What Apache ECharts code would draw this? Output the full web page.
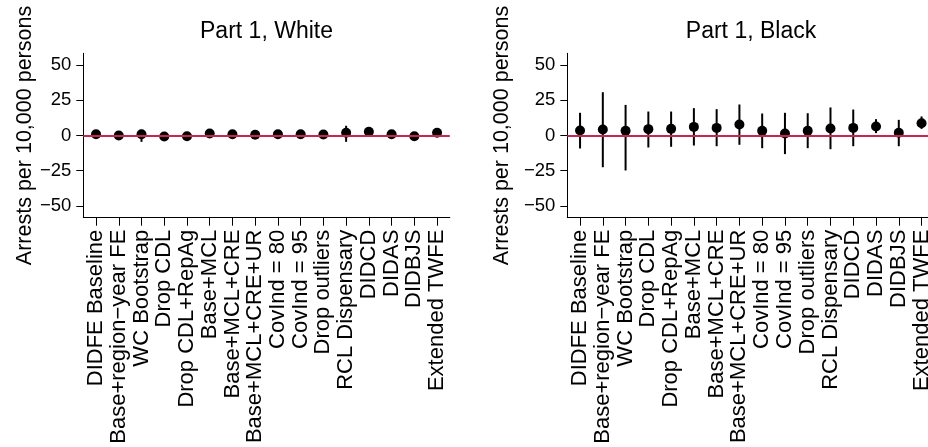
<!DOCTYPE html>
<html>
<head>
<meta charset="utf-8">
<script src="https://cdn.jsdelivr.net/npm/echarts@6/dist/echarts.min.js"></script>
<style>
html,body{margin:0;padding:0;background:#fff;}
#chart{width:928px;height:447px;}
</style>
</head>
<body>
<div id="chart"></div>
<script>
var categories = ["DIDFE Baseline","Base+region\u2212year FE","WC Bootstrap","Drop CDL","Drop CDL+RepAg","Base+MCL","Base+MCL+CRE","Base+MCL+CRE+UR","CovInd = 80","CovInd = 95","Drop outliers","RCL Dispensary","DIDCD","DIDAS","DIDBJS","Extended TWFE"];
var yTicks = [-50, -25, 0, 25, 50];

var whiteEst = [0.9, 0.0, 0.9, -0.7, -0.5, 1.4, 0.9, 0.5, 0.9, 0.9, 0.7, 1.9, 2.6, 0.9, -0.5, 1.9];
var whiteLo  = [-1.5, -2.0, -4.5, -2.8, -2.6, -0.8, -1.3, -1.7, -1.3, -1.3, -1.5, -4.5, 0.6, -1.1, -2.5, -0.1];
var whiteHi  = [3.3, 2.0, 4.0, 1.4, 1.6, 3.6, 3.1, 2.7, 3.1, 3.1, 2.9, 6.9, 4.6, 2.9, 1.5, 3.9];

var blackEst = [3.5, 4.3, 3.3, 4.5, 4.7, 6.1, 5.4, 7.8, 3.3, 1.4, 3.3, 5.0, 5.4, 6.4, 1.9, 8.7];
var blackLo  = [-9.2, -22.5, -24.8, -8.5, -8.0, -7.1, -7.6, -6.6, -9.0, -13.2, -9.0, -9.7, -7.6, 1.7, -7.6, 4.7];
var blackHi  = [16.1, 30.7, 21.7, 17.0, 17.0, 19.4, 18.7, 22.0, 15.6, 16.1, 15.8, 19.9, 18.4, 11.6, 11.1, 13.5];

var FONT = '"Liberation Sans", Arial, Helvetica, sans-serif';
var idx = categories.map(function(_, i){ return i + 1; });

function ciData(lo, hi){ return idx.map(function(x, i){ return [x, lo[i], hi[i]]; }); }
function ptData(est){ return idx.map(function(x, i){ return [x, est[i]]; }); }

function xAxisCfg(g){
  return {
    type: 'value', gridIndex: g, min: 0.44, max: 16.56,
    splitLine: {show: false},
    axisLine: {show: true, onZero: false, lineStyle: {color: '#000', width: 1}},
    axisTick: {show: true, length: 8, lineStyle: {color: '#000', width: 1}, customValues: idx},
    axisLabel: {
      show: true, rotate: 90, margin: 12, color: '#000', fontSize: 22, fontFamily: FONT,
      customValues: idx, hideOverlap: false,
      formatter: function(v){ return categories[Math.round(v) - 1] || ''; }
    }
  };
}
function yAxisCfg(g, gap){
  return {
    type: 'value', gridIndex: g, min: -58.3, max: 58.3,
    name: 'Arrests per 10,000 persons', nameLocation: 'middle', nameGap: gap,
    nameTextStyle: {color: '#000', fontSize: 21.5, fontFamily: FONT},
    splitLine: {show: false},
    axisLine: {show: true, lineStyle: {color: '#000', width: 1}},
    axisTick: {show: true, length: 7, lineStyle: {color: '#000', width: 1}, customValues: yTicks},
    axisLabel: {show: true, margin: 12, color: '#000', fontSize: 18.5, fontFamily: FONT, customValues: yTicks,
      formatter: function(v){ return String(v).replace('-', '\u2212'); }}
  };
}
function ciSeries(g, lo, hi){
  return {
    type: 'custom', xAxisIndex: g, yAxisIndex: g, z: 2,
    data: ciData(lo, hi),
    renderItem: function(params, api){
      var p1 = api.coord([api.value(0), api.value(1)]);
      var p2 = api.coord([api.value(0), api.value(2)]);
      return {type: 'line', shape: {x1: p1[0], y1: p1[1], x2: p2[0], y2: p2[1]},
        style: {stroke: '#000', lineWidth: 2}};
    },
    markLine: {
      silent: true, symbol: ['none', 'none'], label: {show: false},
      lineStyle: {color: '#cc2452', width: 2, type: 'solid'},
      data: [{yAxis: 0}]
    }
  };
}
function ptSeries(g, est){
  return {
    type: 'scatter', xAxisIndex: g, yAxisIndex: g, z: 3,
    symbol: 'circle', symbolSize: 10,
    itemStyle: {color: '#000', opacity: 1},
    data: ptData(est)
  };
}

var chart = echarts.init(document.getElementById('chart'), null, {renderer: 'canvas'});
chart.setOption({
  animation: false,
  backgroundColor: '#fff',
  title: [
    {text: 'Part 1, White', left: 266.5, top: 20, textAlign: 'center', padding: 0,
     textStyle: {color: '#000', fontSize: 23, fontWeight: 'normal', fontFamily: FONT}},
    {text: 'Part 1, Black', left: 751, top: 20, textAlign: 'center', padding: 0,
     textStyle: {color: '#000', fontSize: 23, fontWeight: 'normal', fontFamily: FONT}}
  ],
  grid: [
    {left: 83.3, top: 53.3, width: 366.5, height: 164.4, containLabel: false, outerBoundsMode: 'none'},
    {left: 567.3, top: 53.3, width: 367, height: 164.4, containLabel: false, outerBoundsMode: 'none'}
  ],
  xAxis: [xAxisCfg(0), xAxisCfg(1)],
  yAxis: [yAxisCfg(0, 47), yAxisCfg(1, 54)],
  series: [
    ciSeries(0, whiteLo, whiteHi), ptSeries(0, whiteEst),
    ciSeries(1, blackLo, blackHi), ptSeries(1, blackEst)
  ]
});
</script>
</body>
</html>
